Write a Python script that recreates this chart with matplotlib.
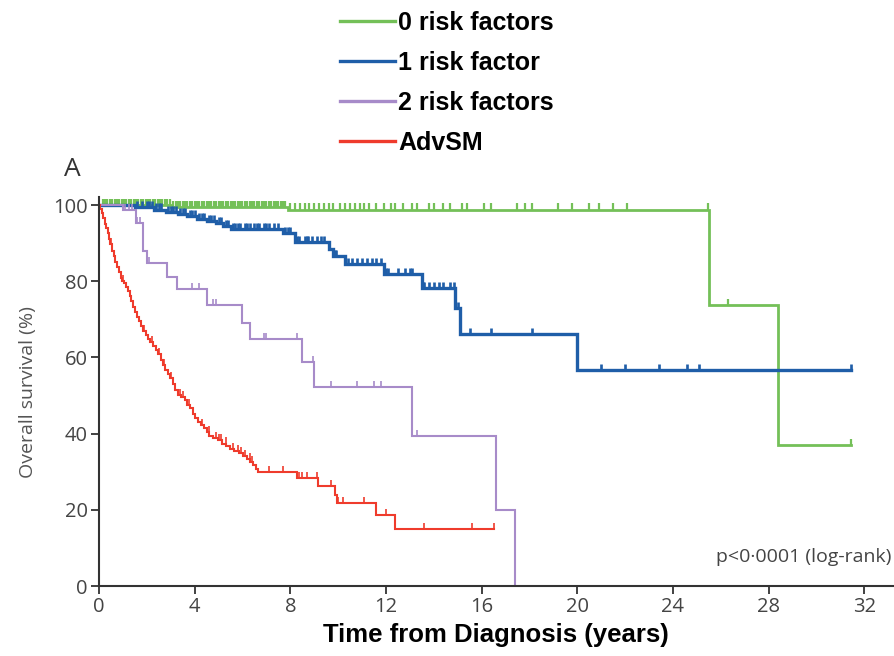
import matplotlib
matplotlib.use('Agg')
import matplotlib.pyplot as plt
from matplotlib.lines import Line2D
import numpy as np

# ---- data (years, % surviving) ----
green_t = [0, 3.0, 7.9, 25.5, 28.4]
green_s = [100, 99.5, 98.8, 73.8, 37.0]
green_end = 31.45
green_cens = [0.15, 0.25, 0.35, 0.45, 0.55, 0.65, 0.75, 0.85, 0.95, 1.05, 1.15, 1.25,
              1.35, 1.45, 1.55, 1.65, 1.75, 1.85, 1.95, 2.05, 2.15, 2.25, 2.35, 2.45,
              2.55, 2.65, 2.75, 2.85, 2.95, 3.1, 3.2, 3.3, 3.4, 3.5, 3.6, 3.7, 3.8,
              3.9, 4.0, 4.1, 4.2, 4.3, 4.4, 4.5, 4.6, 4.7, 4.8, 4.9, 5.0, 5.1, 5.2,
              5.3, 5.4, 5.5, 5.6, 5.7, 5.8, 5.9, 6.0, 6.1, 6.2, 6.3, 6.4, 6.5, 6.6,
              6.7, 6.8, 6.9, 7.0, 7.1, 7.2, 7.3, 7.4, 7.5, 7.6, 7.7, 7.8,
              8.0, 8.2, 8.4, 8.6, 8.8, 9.0, 9.2, 9.4, 9.6, 9.8, 10.1, 10.3, 10.5,
              10.7, 10.9, 11.1, 11.3, 11.6, 11.9, 12.2, 12.4, 12.7, 13.1, 13.3, 13.8,
              14.0, 14.4, 14.7, 15.2, 15.4, 16.1, 16.4, 17.5, 17.8, 18.1, 19.2, 19.8,
              20.5, 20.9, 21.5, 22.1, 25.45, 26.3, 31.45]

blue_t = [0, 1.5, 2.3, 2.8, 3.3, 3.7, 4.1, 4.5, 4.9, 5.2, 5.5, 7.7, 8.2, 9.6, 9.8,
          10.3, 11.9, 13.5, 14.9, 15.1, 20.0]
blue_s = [100, 99.5, 98.8, 98.2, 97.6, 97.0, 96.4, 95.8, 95.2, 94.5, 93.8, 92.6, 90.3,
          88.5, 86.6, 84.5, 81.9, 78.2, 73.0, 66.1, 56.7]
blue_end = 31.45
blue_cens = [1.6, 1.8, 2.0, 2.1, 2.2, 2.4, 2.5, 2.6, 2.9, 3.0, 3.1, 3.2, 3.4, 3.5, 3.6,
             3.8, 3.9, 4.0, 4.2, 4.3, 4.4, 4.6, 4.7, 4.8, 5.0, 5.1, 5.3, 5.4, 5.6, 5.7,
             5.8, 5.9, 6.1, 6.2, 6.3, 6.5, 6.6, 6.7, 6.9, 7.0, 7.1, 7.3, 7.5, 7.8, 7.9,
             8.0, 8.3, 8.35, 8.6, 8.7, 8.75, 8.9, 9.1, 9.3, 9.4, 9.85, 9.9, 10.4, 10.6,
             10.8, 11.0, 11.2, 11.4, 11.6, 11.8, 12.0, 12.1, 12.5, 12.8, 13.0, 13.1,
             13.55, 13.6, 13.8, 14.0, 14.2, 14.4, 14.7, 14.85, 15.0, 15.5, 16.4, 18.1,
             21.0, 22.0, 23.4, 24.6, 25.1, 31.45]

purple_t = [0, 1.0, 1.55, 1.85, 2.0, 2.85, 3.25, 4.5, 6.0, 6.3, 8.5, 9.0, 13.1, 16.6, 17.4]
purple_s = [100, 98.7, 95.3, 88.0, 84.8, 81.1, 78.0, 73.8, 69.0, 64.8, 58.8, 52.2, 39.4,
            19.9, 0]
purple_end = 17.4
purple_cens = [1.1, 1.25, 1.4, 1.6, 1.7, 2.1, 3.9, 4.2, 4.75, 4.9, 6.9, 7.0, 8.3, 8.95,
               9.7, 10.8, 11.5, 11.8, 13.3]

red_t = [0.00, 0.05, 0.12, 0.18, 0.25, 0.30, 0.36, 0.42, 0.48, 0.55, 0.62, 0.68, 0.75,
         0.82, 0.90, 0.97, 1.05, 1.12, 1.20, 1.28, 1.35, 1.43, 1.50, 1.58, 1.66, 1.75,
         1.85, 1.95, 2.05, 2.15, 2.27, 2.38, 2.48, 2.58, 2.68, 2.78, 2.88, 2.98, 3.08,
         3.18, 3.30, 3.45, 3.58, 3.70, 3.80, 3.92, 4.02, 4.12, 4.25, 4.38, 4.50, 4.62,
         4.78, 4.98, 5.15, 5.32, 5.47, 5.65, 5.85, 6.02, 6.18, 6.32, 6.45, 6.55, 6.65,
         8.3, 9.15, 9.85, 9.95, 11.6, 12.4]
red_s = [100, 98.9, 97.8, 96.7, 95.0, 93.9, 92.6, 91.0, 89.7, 88.0, 86.5, 85.0, 83.6,
         82.3, 80.9, 80.0, 79.6, 78.6, 77.5, 76.0, 74.8, 73.3, 71.9, 70.6, 69.6, 68.2,
         66.9, 65.8, 64.9, 64.0, 62.9, 62.0, 60.8, 59.4, 58.0, 56.8, 55.7, 54.5, 53.0,
         51.4, 50.2, 49.6, 48.8, 47.6, 46.6, 45.2, 44.0, 43.0, 42.3, 41.4, 40.3, 39.3,
         38.8, 38.2, 37.4, 36.7, 36.0, 35.5, 34.9, 34.2, 33.4, 32.6, 31.7, 30.8, 30.0,
         28.3, 26.2, 23.9, 21.8, 18.6, 15.0]
red_end = 16.5
red_cens = [0.5, 1.0, 1.3, 1.5, 1.9, 2.2, 2.5, 2.7, 3.0, 3.4, 3.5, 3.75, 4.3, 4.6,
            4.9, 5.0, 5.1, 5.3, 5.6, 5.8, 5.95, 6.1, 6.3, 6.4, 7.1, 7.7, 8.35, 8.5,
            8.7, 9.1, 9.7, 10.0, 10.2, 11.1, 12.0, 13.6, 15.6, 16.5]

labels = ['0 risk factors', '1 risk factor', '2 risk factors', 'AdvSM']
colors = ['#74c058', '#1f5ea8', '#a78bc9', '#ef3b2c']
widths = [2.0, 2.4, 1.5, 1.5]

groups = [(green_t, green_s, green_end, green_cens),
          (blue_t, blue_s, blue_end, blue_cens),
          (purple_t, purple_s, purple_end, purple_cens),
          (red_t, red_s, red_end, red_cens)]

fig = plt.figure(figsize=(8.95, 6.56), dpi=100)
ax = fig.add_axes([0.1106, 0.1067, 0.887, 0.5924])

for (t, s, end, cens), c, lw in zip(groups, colors, widths):
    tt = list(t) + [end]
    ss = list(s) + [s[-1]]
    ax.step(tt, ss, where='post', color=c, lw=lw, solid_joinstyle='miter')
    idx = np.searchsorted(np.array(t), np.array(cens), side='right') - 1
    cs = np.array(s)[idx]
    ax.vlines(cens, cs, cs + 1.6, color=c, lw=lw * 0.8)

ax.set_xlim(0, 33.2)
ax.set_ylim(0, 102)
ax.set_xticks(range(0, 33, 4))
ax.set_yticks(range(0, 101, 20))
for sp in ['top', 'right']:
    ax.spines[sp].set_visible(False)
for sp in ['left', 'bottom']:
    ax.spines[sp].set_color('#333333')
    ax.spines[sp].set_linewidth(1.5)
ax.tick_params(length=6, width=1.3, color='#333333', labelcolor='#444444',
               labelsize=14.5, pad=2)
for lab in ax.get_xticklabels() + ax.get_yticklabels():
    lab.set_family('Open Sans')

ax.set_ylabel('Overall survival (%)', fontsize=14, color='#555555',
              family='Open Sans', labelpad=12)
ax.set_xlabel('Time from Diagnosis (years)', fontsize=18.5, fontweight='bold',
              family='Liberation Sans', color='black', labelpad=4)

ax.text(0.998, 0.062, 'p<0\u00b70001 (log-rank)', transform=ax.transAxes,
        ha='right', va='baseline', fontsize=14, color='#444444', family='Open Sans')
fig.text(72 / 895, 1 - 170 / 656, 'A', fontsize=19, color='#333333',
         family='Open Sans', ha='center', va='center')

handles = [Line2D([0], [0], color=c, lw=2.4) for c in colors]
fig.legend(handles, labels, loc='upper left', bbox_to_anchor=(0.355, 1.018),
           frameon=False, handlelength=2.2, handletextpad=0.12, labelspacing=0.64,
           prop={'family': 'Liberation Sans', 'weight': 'bold', 'size': 18})

fig.savefig('out.png', dpi=100)
